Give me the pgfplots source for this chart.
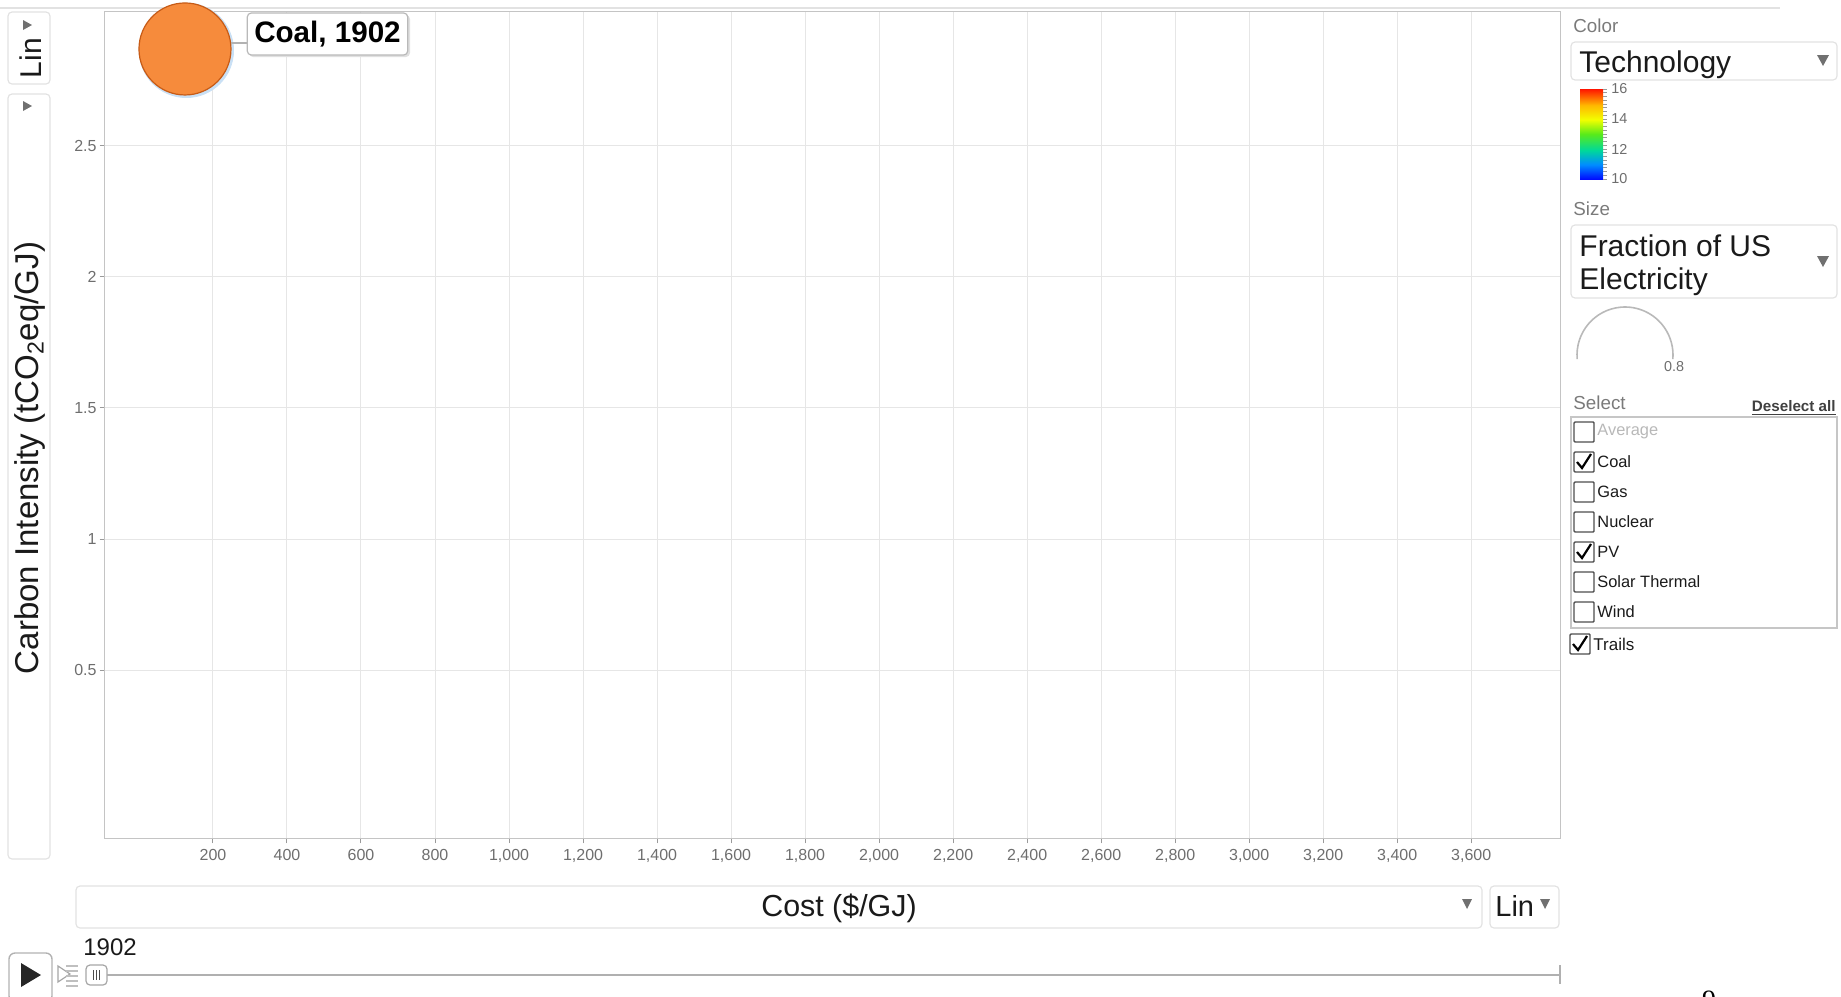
\documentclass[border=0pt]{standalone}
\usepackage{pgfplots}
\pgfplotsset{compat=1.18}
\usepackage{fontspec}
\setmainfont{Liberation Sans}
\newfontfamily\serifpage{Liberation Serif}
\definecolor{gridc}{HTML}{E6E6E6}
\definecolor{axisc}{HTML}{C4C4C4}
\definecolor{tickc}{HTML}{9A9A9A}
\definecolor{labc}{HTML}{6E6E6E}
\definecolor{bubble}{HTML}{F68B3C}
\definecolor{bubbleedge}{HTML}{C75B16}
\definecolor{glow}{HTML}{C9E0F5}
\definecolor{panelc}{HTML}{7A7A7A}
\definecolor{boxc}{HTML}{E2E2E2}
\definecolor{darkt}{HTML}{1A1A1A}
\definecolor{trig}{HTML}{707070}
\definecolor{cbox}{HTML}{4D4D4D}
\definecolor{trackc}{HTML}{B0B0B0}
\pgfdeclareverticalshading{jetbar}{100bp}{%
 rgb(0bp)=(0,0,1); rgb(25bp)=(0,0.05,1); rgb(33bp)=(0,0.55,1); rgb(41bp)=(0,0.85,0.6);
 rgb(50bp)=(0.35,0.92,0.1); rgb(58bp)=(0.95,1,0); rgb(66bp)=(1,0.72,0); rgb(75bp)=(1,0.08,0); rgb(100bp)=(1,0,0)}
\pgfplotstableread{
x y
124.4 2.868
}\coaldata
\begin{document}
\begin{tikzpicture}[x=0.5pt,y=-0.5pt]
\useasboundingbox (0,0) rectangle (1841,996);
% top line
\draw[boxc, line width=0.6pt] (0,8) -- (1780,8);
\begin{axis}[
  at={(52.3pt,-419.15pt)}, anchor=south west,
  scale only axis, width=727.9pt, height=413.3pt,
  xmin=-92.8, xmax=3840.9, ymin=-0.140, ymax=3.010,
  xtick={200,400,...,3600}, ytick={0.5,1,1.5,2,2.5},
  xtick pos=bottom, ytick pos=left,
  scaled x ticks=false, scaled y ticks=false,
  grid=major, major grid style={draw=gridc, line width=0.5pt},
  axis line style={draw=axisc, line width=0.6pt},
  tick align=outside, major tick length=2.5pt,
  tick style={draw=tickc, line width=0.5pt},
  ticklabel style={font=\fontsize{8}{9.6}\selectfont, text=labc},
  /pgf/number format/assume math mode=true,
  /pgf/number format/1000 sep={,},
  xticklabel style={yshift=0.3pt},
  yticklabel style={xshift=2pt},
]
\addplot[only marks, mark=*, mark size=23.6pt, mark options={draw=glow, fill=glow, xshift=0.7pt, yshift=-0.7pt}] table {\coaldata};
\addplot[only marks, mark=*, mark size=23pt, mark options={draw=bubbleedge, fill=bubble, line width=0.6pt}] table {\coaldata};
\end{axis}
% label of bubble
\draw[gray!60, line width=0.6pt] (231,43) -- (247,43);
\fill[black!12, rounded corners=2pt] (249,15) rectangle (410,57);
\node[draw=gray!55, fill=white, rounded corners=2pt, line width=0.6pt, font=\bfseries\fontsize{14.8}{17}\selectfont, text=black, inner xsep=3.5pt, minimum height=21pt] at (327.5,34) {Coal, 1902};
% left controls
\draw[boxc, line width=0.6pt, rounded corners=2pt] (8,12) rectangle (50,84);
\draw[boxc, line width=0.6pt, rounded corners=2pt] (8,94) rectangle (50,859);
\fill[trig] (23,20) -- (32,25) -- (23,30) -- cycle;
\fill[trig] (23,101) -- (32,106) -- (23,111) -- cycle;
\node[rotate=90, font=\fontsize{15}{18}\selectfont, text=darkt] at (31,58) {Lin};
\node[rotate=90, font=\fontsize{16.5}{19}\selectfont, text=darkt] at (30,458) {Carbon Intensity (tCO\textsubscript{2}eq/GJ)};
% bottom controls
\draw[boxc, line width=0.6pt, rounded corners=2pt] (76,886) rectangle (1482,928);
\draw[boxc, line width=0.6pt, rounded corners=2pt] (1490,886) rectangle (1559,928);
\fill[trig] (1462,899) -- (1472,899) -- (1467,909) -- cycle;
\fill[trig] (1540,899) -- (1550,899) -- (1545,909) -- cycle;
\node[font=\fontsize{15.2}{17}\selectfont, text=darkt] at (839,908.5) {Cost (\$/GJ)};
\node[font=\fontsize{14.5}{17}\selectfont, text=darkt, anchor=west, inner sep=0pt] at (1495,906) {Lin};
% slider
\node[font=\fontsize{12}{14}\selectfont, text=darkt, anchor=west, inner sep=0pt] at (83,947.5) {1902};
\draw[gray!60, line width=0.7pt, rounded corners=3pt] (9,953) rectangle (52,1002);
\fill[black!85] (21,963) -- (41,975) -- (21,987) -- cycle;
\draw[gray!70, line width=0.6pt] (58,966) -- (70,974) -- (58,982) -- cycle;
\foreach \yy in {966,971,976,981,986} \draw[gray!50, line width=0.6pt] (66,\yy) -- (78,\yy);
\draw[trackc, line width=1pt] (107,974.5) -- (1560,974.5);
\draw[trackc, line width=0.7pt] (1560,965) -- (1560,984);
\draw[gray!70, fill=white, line width=0.6pt, rounded corners=2pt] (86,965) rectangle (107,985);
\foreach \xx in {93.5,96.5,99.5} \draw[black!70, line width=0.5pt] (\xx,970) -- (\xx,980);
% right panel
\node[font=\fontsize{9.4}{11}\selectfont, text=panelc, anchor=west, inner sep=0pt] at (1573,26) {Color};
\draw[boxc, line width=0.6pt, rounded corners=2pt] (1571,42) rectangle (1837,80);
\node[font=\fontsize{15}{18}\selectfont, text=darkt, anchor=base west, inner sep=0pt] at (1579,72) {Technology};
\fill[trig] (1817,55) -- (1829,55) -- (1823,66) -- cycle;
\shade[shading=jetbar] (1580,89) rectangle (1603,179);
\foreach \v in {0,0.25,...,6} \draw[tickc, line width=0.4pt] (1603,{179-15*\v}) -- (1607,{179-15*\v});
\foreach \v/\lab in {0/10,2/12,4/14,6/16} \node[font=\fontsize{7.2}{9}\selectfont, text=labc, anchor=west, inner sep=0pt] at (1611,{179-15*\v}) {\lab};
\node[font=\fontsize{9.4}{11}\selectfont, text=panelc, anchor=west, inner sep=0pt] at (1573,209) {Size};
\draw[boxc, line width=0.6pt, rounded corners=2pt] (1571,225) rectangle (1837,298);
\node[font=\fontsize{15}{18}\selectfont, text=darkt, anchor=base west, inner sep=0pt] at (1579,256.5) {Fraction of US};
\node[font=\fontsize{15}{18}\selectfont, text=darkt, anchor=base west, inner sep=0pt] at (1579,289.5) {Electricity};
\fill[trig] (1817,256) -- (1829,256) -- (1823,267) -- cycle;
\draw[gray!55, line width=0.8pt] (1625,355) ++(175:48) arc (175:365:48);
\node[font=\fontsize{7.2}{9}\selectfont, text=labc] at (1674,367) {0.8};
\node[font=\fontsize{9.4}{11}\selectfont, text=panelc, anchor=west, inner sep=0pt] at (1573,403) {Select};
\node[font=\bfseries\fontsize{7.6}{10}\selectfont, text=black!75, anchor=east, inner sep=0pt] at (1836,408.5) {\underline{Deselect all}};
\draw[gray!45, line width=0.6pt] (1571,417) rectangle (1837,628);
\foreach \yy/\nm/\tc in {432/Average/black!28,462/Coal/darkt,492/Gas/darkt,522/Nuclear/darkt,552/PV/darkt,582/Solar Thermal/darkt,612/Wind/darkt}{
  \draw[cbox, line width=0.7pt, rounded corners=0.5pt] (1574,\yy-10) rectangle (1594,\yy+10);
  \node[font=\fontsize{8.2}{10}\selectfont, text=\tc, anchor=west, inner sep=0pt] at (1597,\yy) {\nm};
}
\foreach \yy in {462,552} \draw[black, line width=1.1pt] (1577,\yy) -- (1582,\yy+6) -- (1591,\yy-8);
\draw[cbox, line width=0.7pt, rounded corners=0.5pt] (1570,634) rectangle (1590,654);
\draw[black, line width=1.1pt] (1573,644) -- (1578,650) -- (1587,636);
\node[font=\fontsize{8.5}{10}\selectfont, text=darkt, anchor=west, inner sep=0pt] at (1593,644) {Trails};
% page number partly visible
\node[font=\serifpage\fontsize{14}{16}\selectfont, text=black] at (1709,1000) {9};
\end{tikzpicture}
\end{document}
